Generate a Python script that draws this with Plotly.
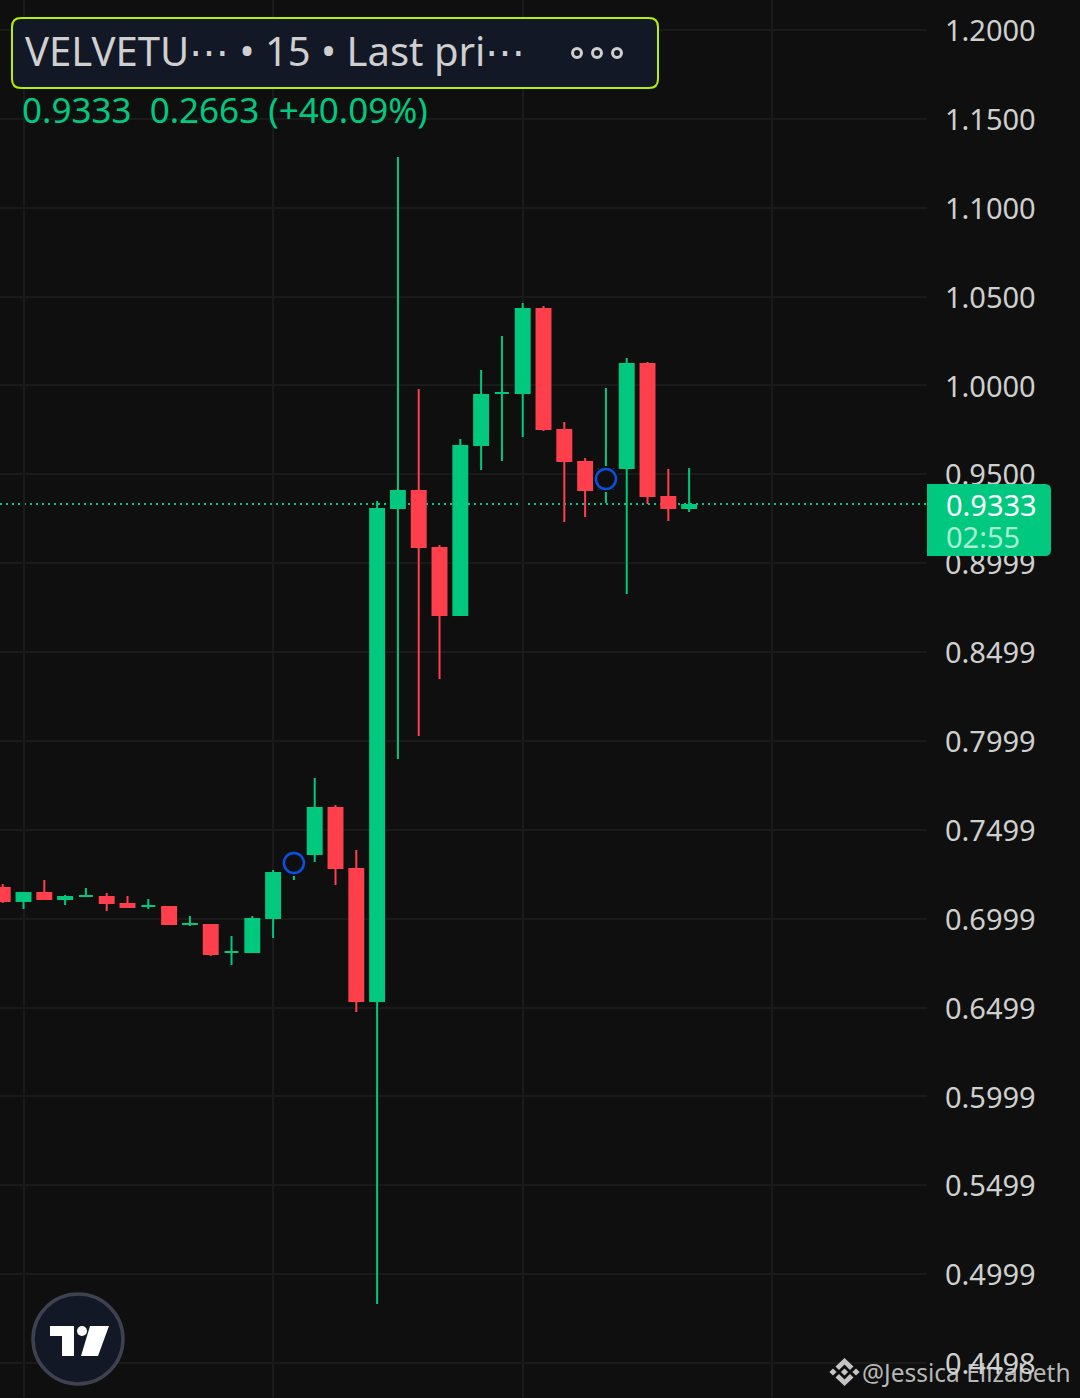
import plotly.graph_objects as go

opens  = [0.7177,0.7093,0.7149,0.7104,0.7121,0.7127,0.7087,0.7065,0.7070,0.6963,0.6969,0.6806,0.6806,0.6997,0.7262,0.7357,0.7627,0.7284,0.6530,0.9304,0.9411,0.9091,0.8702,0.9659,0.9952,0.9952,1.0436,0.9755,0.9575,0.9411,0.9530,1.0126,0.9378,0.9304]
highs  = [0.7194,0.7149,0.7217,0.7132,0.7172,0.7143,0.7127,0.7110,0.7070,0.7014,0.6969,0.6902,0.7014,0.7273,0.7357,0.7791,0.7639,0.7385,0.9349,1.1285,0.9980,0.9102,0.9698,1.0087,1.0278,1.0464,1.0447,0.9794,0.9591,0.9985,1.0154,1.0132,0.9530,0.9535]
lows   = [0.7087,0.7053,0.7104,0.7076,0.7121,0.7042,0.7059,0.7053,0.6963,0.6958,0.6789,0.6738,0.6806,0.6890,0.7217,0.7318,0.7189,0.6474,0.4831,0.7898,0.8027,0.8348,0.8702,0.9524,0.9575,0.9710,0.9743,0.9231,0.9259,0.9338,0.8826,0.9333,0.9237,0.9288]
closes = [0.7093,0.7149,0.7104,0.7127,0.7132,0.7082,0.7059,0.7076,0.6963,0.6975,0.6795,0.6817,0.7003,0.7262,0.7357,0.7627,0.7279,0.6530,0.9310,0.9411,0.9085,0.8702,0.9665,0.9952,0.9963,1.0436,0.9749,0.9569,0.9406,0.9535,1.0126,0.9372,0.9304,0.9333]
bars = list(range(len(opens)))

tick_values = [1.2,1.15,1.1,1.05,1.0,0.95,0.8999,0.8499,0.7999,0.7499,0.6999,0.6499,0.5999,0.5499,0.4999,0.4498]
tick_labels = ["1.2000","1.1500","1.1000","1.0500","1.0000","0.9500","0.8999","0.8499","0.7999","0.7499","0.6999","0.6499","0.5999","0.5499","0.4999","0.4498"]
vertical_grid = [1,13,25,37]
signal_bars = [14,29]
signal_prices = [0.7312,0.9473]
last_price = 0.9333

W, H, PW = 1080, 1398, 927
BG = "#0f0f0f"; GRID = "#1a1a1a"; GREEN = "#00c97f"; RED = "#ff404c"; TXT = "#cfcfcf"
Y_RANGE = [0.43015, 1.21688]
def X(p): return p / PW
def Y(p): return 1 - p / H

# The body outline adds half a stroke (1px) above and below; pull the drawn body in by that much.
half_stroke = (Y_RANGE[1] - Y_RANGE[0]) / H
body_open, body_close = [], []
for o, c in zip(opens, closes):
    inset = min(half_stroke, abs(c - o) / 2)
    sign = 1 if c >= o else -1
    body_open.append(o + sign * inset)
    body_close.append(c - sign * inset)

fig = go.Figure()
fig.add_trace(go.Candlestick(
    x=bars, open=body_open, high=highs, low=lows, close=body_close,
    increasing=dict(line=dict(color=GREEN, width=2), fillcolor=GREEN),
    decreasing=dict(line=dict(color=RED, width=2), fillcolor=RED),
    whiskerwidth=0, hoverinfo="skip", showlegend=False))
fig.add_trace(go.Scatter(
    x=signal_bars, y=signal_prices, mode="markers", hoverinfo="skip", showlegend=False,
    marker=dict(size=26, color=BG, line=dict(width=0))))
fig.add_trace(go.Scatter(
    x=signal_bars, y=signal_prices, mode="markers", hoverinfo="skip", showlegend=False,
    marker=dict(size=20, color=BG, line=dict(color="#0a50e0", width=2.5))))

def paper_path(pts):
    return "M " + " L ".join(f"{X(a):.5f},{Y(b):.5f}" for a, b in pts) + " Z"

def rounded(x0, y0, x1, y1, r):
    q = r * 0.3
    return (f"M {X(x0+r):.5f},{Y(y0):.5f} L {X(x1-r):.5f},{Y(y0):.5f} "
            f"C {X(x1-q):.5f},{Y(y0):.5f} {X(x1):.5f},{Y(y0+q):.5f} {X(x1):.5f},{Y(y0+r):.5f} "
            f"L {X(x1):.5f},{Y(y1-r):.5f} "
            f"C {X(x1):.5f},{Y(y1-q):.5f} {X(x1-q):.5f},{Y(y1):.5f} {X(x1-r):.5f},{Y(y1):.5f} "
            f"L {X(x0+r):.5f},{Y(y1):.5f} "
            f"C {X(x0+q):.5f},{Y(y1):.5f} {X(x0):.5f},{Y(y1-q):.5f} {X(x0):.5f},{Y(y1-r):.5f} "
            f"L {X(x0):.5f},{Y(y0+r):.5f} "
            f"C {X(x0):.5f},{Y(y0+q):.5f} {X(x0+q):.5f},{Y(y0):.5f} {X(x0+r):.5f},{Y(y0):.5f} Z")

def pshape(path, fill, line=None, lw=0):
    return dict(type="path", xref="paper", yref="paper", path=path, fillcolor=fill,
                line=dict(color=line or fill, width=lw), layer="above")

def circle(cx, cy, r, fill, line, lw):
    return dict(type="circle", xref="paper", yref="paper", x0=X(cx-r), x1=X(cx+r),
                y0=Y(cy+r), y1=Y(cy-r), fillcolor=fill, line=dict(color=line, width=lw), layer="above")

shapes = [
    dict(type="line", xref="paper", yref="y", x0=0, x1=1, y0=last_price, y1=last_price,
         line=dict(color=GREEN, width=2, dash="2px,4px"), layer="below"),
    pshape(rounded(12, 18, 658, 88, 9), "#131826", "#b4f000", 2),
    circle(577, 53, 4.5, "rgba(0,0,0,0)", TXT, 3),
    circle(597, 53, 4.5, "rgba(0,0,0,0)", TXT, 3),
    circle(617, 53, 4.5, "rgba(0,0,0,0)", TXT, 3),
    pshape(f"M {X(927)},{Y(484)} L {X(1045)},{Y(484)} Q {X(1051)},{Y(484)} {X(1051)},{Y(490)} "
           f"L {X(1051)},{Y(550)} Q {X(1051)},{Y(556)} {X(1045)},{Y(556)} L {X(927)},{Y(556)} Z", GREEN),
    circle(78, 1339, 45, "#131826", "#3e424f", 3.5),
    pshape(paper_path([(50,1326),(74,1326),(74,1356),(62,1356),(62,1336),(50,1336)]), "#ffffff"),
    circle(82, 1331, 5, "#ffffff", "#ffffff", 0),
    pshape(paper_path([(90,1326),(109,1326),(98,1356),(81,1356)]), "#ffffff"),
]
# Binance-style diamond mark
MARK = "#c4c4c4"
shapes.append(pshape(paper_path([(844.5,1358),(853.5,1366.5),(850,1370),(844.5,1364.5),(839,1370),(835.5,1366.5)]), MARK))
shapes.append(pshape(paper_path([(844.5,1386),(853.5,1377.5),(850,1374),(844.5,1379.5),(839,1374),(835.5,1377.5)]), MARK))
for cx, cy, r in [(833,1372,3.6),(856,1372,3.6),(844.5,1372,3.6)]:
    shapes.append(pshape(paper_path([(cx,cy-r),(cx+r,cy),(cx,cy+r),(cx-r,cy)]), MARK))

def note(px, py, text, size, color, font="Noto Sans"):
    return dict(xref="paper", yref="paper", x=X(px), y=Y(py), text=text, showarrow=False,
                xanchor="left", yanchor="middle", align="left", borderpad=0,
                font=dict(family=font, size=size, color=color))

annotations = [
    note(23.5, 51, "VELVETU\u22ef \u2022 15 \u2022 Last pri\u22ef", 40, TXT),
    note(21, 110, "0.9333\u00a0\u00a00.2663 (+40.09%)", 35, GREEN),
    note(945, 505, "0.9333", 29, "#ffffff"),
    note(945, 536, "02:55", 29, "#a8eed3"),
    note(861, 1372, "@Jessica Elizabeth", 24.5, "rgba(215,215,215,0.85)"),
]

fig.update_layout(
    width=W, height=H, margin=dict(l=0, r=W-PW, t=0, b=0, pad=0),
    paper_bgcolor=BG, plot_bgcolor=BG, showlegend=False, dragmode=False,
    boxgap=0.33, boxgroupgap=0,
    font=dict(family="Noto Sans", color=TXT),
    shapes=shapes, annotations=annotations,
    xaxis=dict(range=[-0.13, 44.436], tickvals=vertical_grid, showticklabels=False, ticks="",
               showgrid=True, gridcolor=GRID, gridwidth=2, zeroline=False, showline=False,
               rangeslider=dict(visible=False), fixedrange=True),
    yaxis=dict(range=Y_RANGE, side="right", tickmode="array", tickvals=tick_values,
               ticktext=tick_labels, ticks="", ticklabelstandoff=17, ticklabelshift=1,
               tickfont=dict(family="Noto Sans", size=29, color=TXT),
               showgrid=True, gridcolor=GRID, gridwidth=2, zeroline=False, showline=False, fixedrange=True),
)
fig.write_html("out.html", config=dict(displayModeBar=False),
               post_script="document.body.style.margin='0';")
